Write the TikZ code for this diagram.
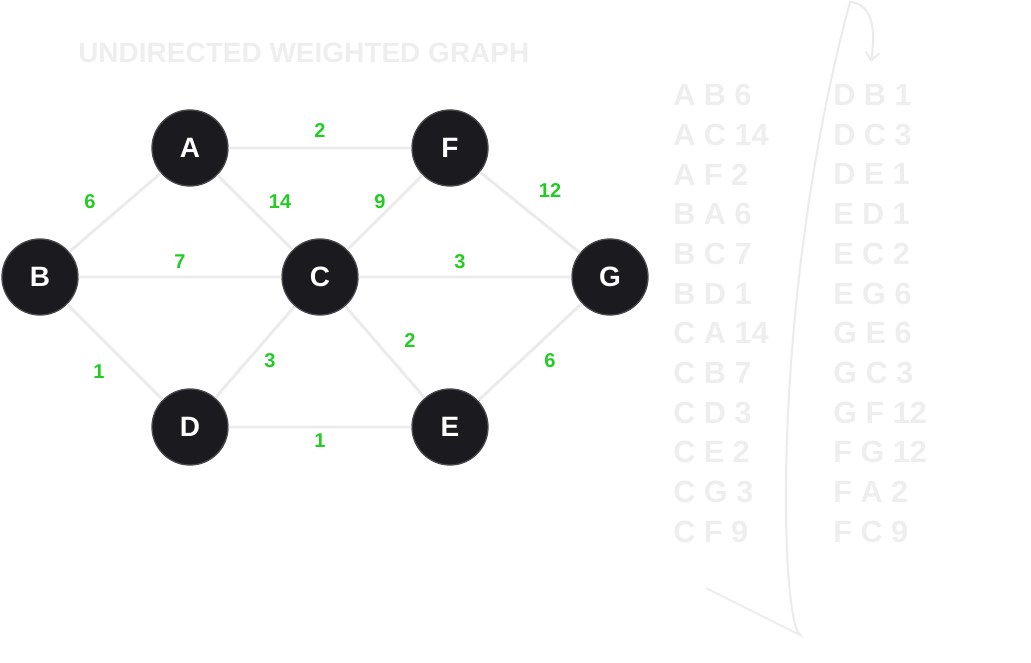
\documentclass[tikz,border=0pt]{standalone}
\usepackage{fontspec}
\setmainfont{Liberation Sans}
\usetikzlibrary{arrows.meta}
\definecolor{nd}{HTML}{1B1A1F}
\definecolor{lg}{HTML}{EBEBEB}
\definecolor{gr}{HTML}{22CC22}
\definecolor{tx}{HTML}{EEEEEE}
\begin{document}
\begin{tikzpicture}[x=0.75pt,y=-0.75pt,
  vert/.style={circle,fill=nd,draw=nd!80,line width=1pt,minimum size=57pt,inner sep=0,text=white,font=\fontsize{21}{21}\selectfont\bfseries},
  edge/.style={draw=lg,line width=2.2pt},
  w/.style={text=gr,font=\fontsize{15}{15}\selectfont\bfseries},
  row/.style={text=tx,anchor=west,font=\fontsize{23}{23}\selectfont\bfseries,inner sep=0}]
\useasboundingbox (0,0) rectangle (1031,663);
\node[vert] (A) at (190,148) {A};
\node[vert] (F) at (450,148) {F};
\node[vert] (B) at (40,277) {B};
\node[vert] (C) at (320,277) {C};
\node[vert] (G) at (610,277) {G};
\node[vert] (D) at (190,427) {D};
\node[vert] (E) at (450,427) {E};
\begin{scope}[on background layer/.style={}]
\end{scope}
\begin{pgfonlayer}{main}\end{pgfonlayer}
\path[edge] (A) -- (F) (A) -- (B) (A) -- (C) (F) -- (C) (F) -- (G) (B) -- (C) (C) -- (G) (B) -- (D) (C) -- (D) (C) -- (E) (G) -- (E) (D) -- (E);
\node[w] (w1) at (320,131) {2};
\node[w] (w2) at (90,202) {6};
\node[w] (w3) at (280,202) {14};
\node[w] (w4) at (380,202) {9};
\node[w] (w5) at (550,191) {12};
\node[w] (w6) at (180,262) {7};
\node[w] (w7) at (460,262) {3};
\node[w] (w8) at (410,341) {2};
\node[w] (w9) at (99,372) {1};
\node[w] (w10) at (270,361) {3};
\node[w] (w11) at (550,361) {6};
\node[w] (w12) at (320,441) {1};
\node[text=tx,anchor=west,inner sep=0,font=\fontsize{21}{21}\selectfont\bfseries] (title) at (78,53) {UNDIRECTED WEIGHTED GRAPH};
\foreach \t [count=\i from 0] in {A B 6,A C 14,A F 2,B A 6,B C 7,B D 1,C A 14,C B 7,C D 3,C E 2,C G 3,C F 9}
  \node[row] (l\i) at (673,{95+39.7*\i}) {\t};
\foreach \t [count=\i from 0] in {D B 1,D C 3,D E 1,E D 1,E C 2,E G 6,G E 6,G C 3,G F 12,F G 12,F A 2,F C 9}
  \node[row] (r\i) at (833,{95+39.7*\i}) {\t};
\coordinate (s) at (706,588);
\coordinate (b) at (800,635);
\coordinate (t) at (850,2);
\coordinate (e) at (871,62);
\draw[lg,line width=1.5pt,-{Straight Barb[length=6pt,width=10pt]}] (s) -- (b) .. controls (780,620) and (770,300) .. (t) .. controls (875,4) and (875,35) .. (e);
\end{tikzpicture}
\end{document}
